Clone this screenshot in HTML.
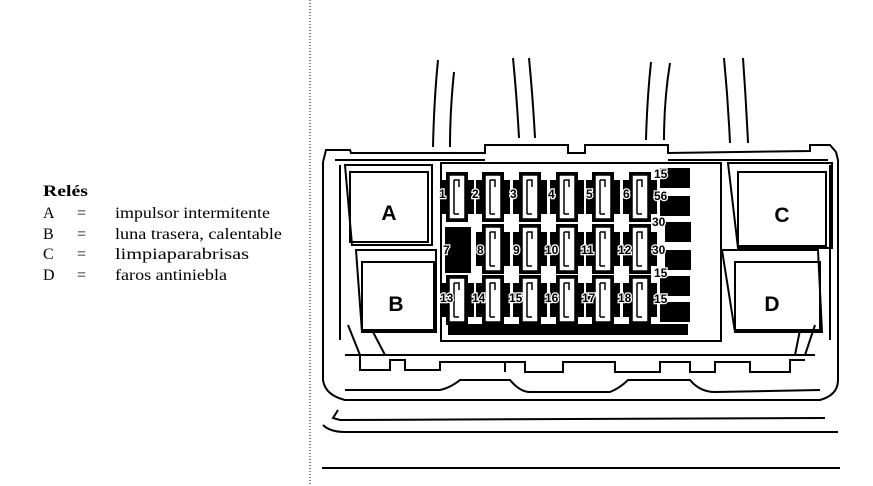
<!DOCTYPE html>
<html><head><meta charset="utf-8"><style>
html,body{margin:0;padding:0;background:#fff;}
svg{display:block}
</style></head><body>
<svg width="873" height="486" viewBox="0 0 873 486" xmlns="http://www.w3.org/2000/svg">
<defs>
<g id="f">
<rect x="-17" y="-17" width="34" height="34" fill="#000"/>
<rect x="-11" y="-25" width="22" height="50" fill="#000"/>
<rect x="-8" y="-22" width="16" height="44" fill="#fff" stroke="#000" stroke-width="1.5"/>
<path d="M-3,-17 V17 M-3,-17 H2 V-10 M-3,17 H2" fill="none" stroke="#000" stroke-width="1.5"/>
</g>
</defs>
<line x1="310" y1="0" x2="310" y2="486" stroke="#000" stroke-width="1" stroke-dasharray="1,2"/>
<g font-family="'Liberation Serif',serif" font-size="16" fill="#000">
<text x="43" y="196" font-weight="bold" textLength="45" lengthAdjust="spacingAndGlyphs">Relés</text>
<text x="43" y="218">A</text><text x="77" y="218">=</text><text x="115" y="218" textLength="155" lengthAdjust="spacingAndGlyphs">impulsor intermitente</text>
<text x="43" y="239">B</text><text x="77" y="239">=</text><text x="115" y="239" textLength="167" lengthAdjust="spacingAndGlyphs">luna trasera, calentable</text>
<text x="43" y="259">C</text><text x="77" y="259">=</text><text x="115" y="259" textLength="134" lengthAdjust="spacingAndGlyphs">limpiaparabrisas</text>
<text x="43" y="280">D</text><text x="77" y="280">=</text><text x="115" y="280" textLength="112" lengthAdjust="spacingAndGlyphs">faros antiniebla</text>
</g>
<g fill="none" stroke="#000" stroke-width="2">
<path d="M438,60 Q434,100 433,147"/><path d="M454,72 Q450,110 450,147"/>
<path d="M513,58 Q517,100 519,138"/><path d="M529,58 Q533,100 535,138"/>
<path d="M651,62 Q647,100 646,140"/><path d="M670,63 Q664,100 664,140"/>
<path d="M724,58 Q728,100 730,143"/><path d="M743,58 Q746,100 748,143"/>
<path d="M323,162 L326,150 L350,150 L351,153 L485,153 L485,145 L568,145 L568,153 L585,153 L585,145 L668,145 L668,153 L810,151 L810,145 L830,145 L836,152 L838,160"/>
<path d="M323,162 L323,380 Q325,395 345,400 L820,400 Q838,395 838,380 L838,160"/>
<path d="M335,160 L485,160 M668,160 L828,160"/>
<path d="M340,165 L340,340 M830,165 L830,340"/>
<rect x="441" y="163" width="280" height="178"/>
<path d="M345,355 L815,355"/>
<path d="M360,355 L360,370 L390,370 L390,360 L405,360 L405,370 L440,370 L440,362 L505,362 L505,372 M505,362 L525,362 L525,372 L563,372 L563,362 L615,362 L615,372 L660,372 L660,362 L690,362 L690,372 L715,372 L715,362 L750,362 L750,372 L790,372 L790,360 L805,360"/>
<path d="M345,390 L440,390 Q450,388 460,380 L510,380 Q520,392 530,392 L610,392 Q620,388 628,380 L690,380 Q700,392 715,392 L820,390"/>
<path d="M338,410 L333,418 L340,420 L825,418"/>
<path d="M323,425 Q330,432 345,432 L838,432"/>
<path d="M322,468 L840,468"/>
<path d="M345,165 L432,165 L432,245 L352,245 Z"/><rect x="350" y="172" width="78" height="70"/>
<path d="M356,250 L436,250 L436,332 L362,332 Z"/><rect x="362" y="262" width="72" height="68"/>
<path d="M728,163 L832,163 L832,248 L738,248 Z"/><rect x="738" y="172" width="88" height="74"/>
<path d="M722,250 L818,250 L822,332 L735,332 Z"/><rect x="735" y="262" width="85" height="68"/>
<path d="M348,325 L360,355 M372,330 L385,355 M800,330 L795,355 M815,325 L805,355"/>
</g>
<g font-family="'Liberation Sans',sans-serif" font-weight="bold" fill="#000" text-anchor="middle">
<text x="389" y="220" font-size="21">A</text>
<text x="396" y="311" font-size="21">B</text>
<text x="782" y="222" font-size="21">C</text>
<text x="772" y="311" font-size="21">D</text>
</g>
<use href="#f" x="457" y="197"/><use href="#f" x="493" y="197"/><use href="#f" x="530" y="197"/><use href="#f" x="567" y="197"/><use href="#f" x="603" y="197"/><use href="#f" x="640" y="197"/>
<rect x="445" y="227" width="26" height="46" fill="#000"/>
<use href="#f" x="493" y="249"/><use href="#f" x="530" y="249"/><use href="#f" x="567" y="249"/><use href="#f" x="603" y="249"/><use href="#f" x="640" y="249"/>
<use href="#f" x="457" y="300"/><use href="#f" x="493" y="300"/><use href="#f" x="530" y="300"/><use href="#f" x="567" y="300"/><use href="#f" x="603" y="300"/><use href="#f" x="640" y="300"/>
<g fill="#000">
<rect x="660" y="168" width="30" height="20"/><rect x="660" y="196" width="30" height="20"/>
<rect x="665" y="222" width="26" height="20"/><rect x="665" y="250" width="26" height="20"/>
<rect x="660" y="276" width="30" height="20"/><rect x="660" y="302" width="30" height="20"/>
<rect x="448" y="324" width="240" height="11"/>
</g>
<g font-family="'Liberation Sans',sans-serif" font-weight="bold" font-size="12" fill="#000" stroke="#fff" stroke-width="2.5" paint-order="stroke">
<text x="439" y="198">1</text><text x="472" y="198">2</text><text x="510" y="198">3</text><text x="548" y="198">4</text><text x="586" y="198">5</text><text x="623" y="198">6</text>
<text x="443" y="254">7</text><text x="477" y="254">8</text><text x="513" y="254">9</text><text x="545" y="254">10</text><text x="581" y="254">11</text><text x="618" y="254">12</text>
<text x="440" y="302">13</text><text x="472" y="302">14</text><text x="509" y="302">15</text><text x="545" y="302">16</text><text x="582" y="302">17</text><text x="618" y="302">18</text>
<text x="654" y="178">15</text><text x="654" y="200">56</text><text x="652" y="226">30</text><text x="652" y="254">30</text><text x="654" y="277">15</text><text x="654" y="303">15</text>
</g>
</svg>
</body></html>
